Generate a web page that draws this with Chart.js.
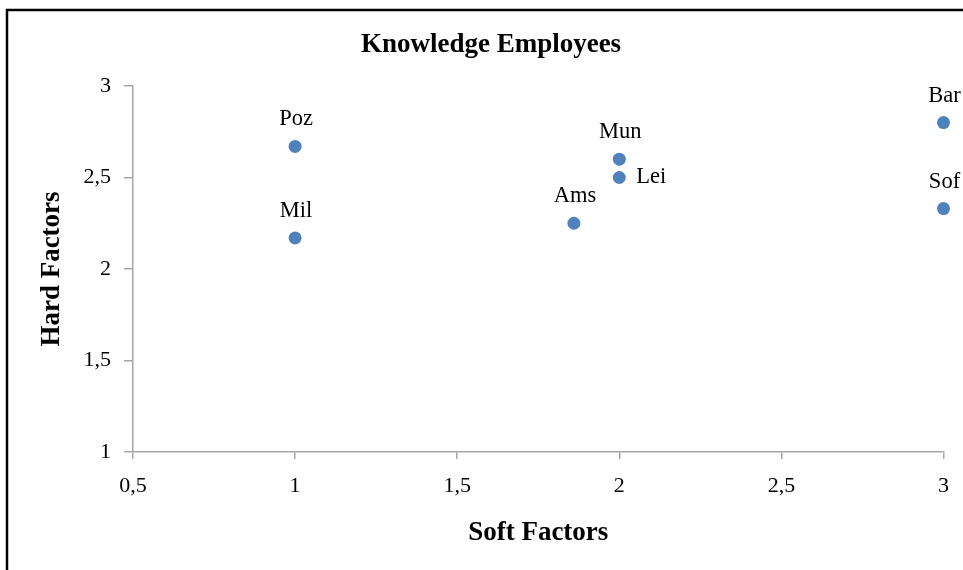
<!DOCTYPE html>
<html>
<head>
<meta charset="utf-8">
<script src="https://cdn.jsdelivr.net/npm/chart.js@4/dist/chart.umd.min.js"></script>
<style>
html,body{margin:0;padding:0;background:#fff;}
#wrap{width:963px;height:570px;position:relative;}
</style>
</head>
<body>
<div id="wrap"><canvas id="c"></canvas></div>
<script>
const cities = ['Poz', 'Mil', 'Ams', 'Mun', 'Lei', 'Bar', 'Sof'];
const softFactors = [1, 1, 1.86, 2, 2, 3, 3];
const hardFactors = [2.67, 2.17, 2.25, 2.6, 2.5, 2.8, 2.33];
const xTickLabels = ['0,5', '1', '1,5', '2', '2,5', '3'];
const yTickLabels = ['1', '1,5', '2', '2,5', '3'];
const chartTitle = 'Knowledge Employees';
const xTitle = 'Soft Factors';
const yTitle = 'Hard Factors';

const FONT = "'Liberation Serif', 'Times New Roman', serif";
const rightLabeled = ['Lei'];

const points = cities.map((c, i) => ({x: softFactors[i], y: hardFactors[i], name: c}));

const frame = {
  id: 'frame',
  beforeDraw(chart) {
    const ctx = chart.ctx;
    ctx.save();
    ctx.fillStyle = '#fff';
    ctx.fillRect(0, 0, chart.width, chart.height);
    ctx.strokeStyle = '#000';
    ctx.lineWidth = 2.5;
    ctx.strokeRect(7, 10, 2000, 2000);
    ctx.restore();
  },
  afterDraw(chart) {
    const ctx = chart.ctx;
    ctx.save();
    ctx.font = 'bold 27px ' + FONT;
    ctx.fillStyle = '#000';
    ctx.textAlign = 'center';
    ctx.textBaseline = 'middle';
    ctx.fillText(chartTitle, 491, 45);
    ctx.restore();
  }
};

const pointLabels = {
  id: 'pointLabels',
  afterDatasetsDraw(chart) {
    const ctx = chart.ctx;
    const meta = chart.getDatasetMeta(0);
    ctx.save();
    ctx.font = '22.5px ' + FONT;
    ctx.fillStyle = '#000';
    meta.data.forEach((el, i) => {
      const name = cities[i];
      if (rightLabeled.includes(name)) {
        ctx.textAlign = 'left';
        ctx.textBaseline = 'middle';
        ctx.fillText(name, el.x + 17, el.y);
      } else {
        ctx.textAlign = 'center';
        ctx.textBaseline = 'alphabetic';
        ctx.fillText(name, el.x + 1, el.y - 21);
      }
    });
    ctx.restore();
  }
};

new Chart(document.getElementById('c'), {
  type: 'scatter',
  data: {
    datasets: [{
      data: points,
      backgroundColor: '#4F81BD',
      borderColor: '#4F81BD',
      pointRadius: 6.5,
      pointHoverRadius: 6.5,
      borderWidth: 0,
      clip: false
    }]
  },
  options: {
    responsive: true,
    maintainAspectRatio: false,
    animation: false,
    events: [],
    layout: {padding: {left: 0, right: 18, top: 86, bottom: 0}},
    plugins: {
      legend: {display: false},
      tooltip: {enabled: false},
      title: {display: false}
    },
    scales: {
      x: {
        type: 'linear',
        min: 0.5, max: 3,
        afterFit(s) { s.height = 118; },
        ticks: {
          stepSize: 0.5,
          color: '#000',
          font: {family: FONT, size: 22},
          padding: 14,
          maxRotation: 0,
          callback: (v, i) => xTickLabels[i]
        },
        grid: {drawOnChartArea: false, drawTicks: true, tickLength: 7, color: '#A6A6A6', lineWidth: 1.5},
        border: {display: true, color: '#A6A6A6', width: 1.5},
        title: {
          display: true, text: xTitle, color: '#000',
          font: {family: FONT, size: 27, weight: 'bold', lineHeight: 1.2},
          padding: {top: 0, bottom: 21}
        }
      },
      y: {
        type: 'linear',
        min: 1, max: 3,
        afterFit(s) { s.width = 133; },
        ticks: {
          stepSize: 0.5,
          color: '#000',
          font: {family: FONT, size: 22},
          padding: 13,
          callback: (v, i) => yTickLabels[i]
        },
        grid: {drawOnChartArea: false, drawTicks: true, tickLength: 9, color: '#A6A6A6', lineWidth: 1.5},
        border: {display: true, color: '#A6A6A6', width: 1.5},
        title: {
          display: true, text: yTitle, color: '#000',
          font: {family: FONT, size: 27, weight: 'bold', lineHeight: 1.2},
          padding: {top: 36, bottom: 0}
        }
      }
    }
  },
  plugins: [frame, pointLabels]
});
</script>
</body>
</html>
